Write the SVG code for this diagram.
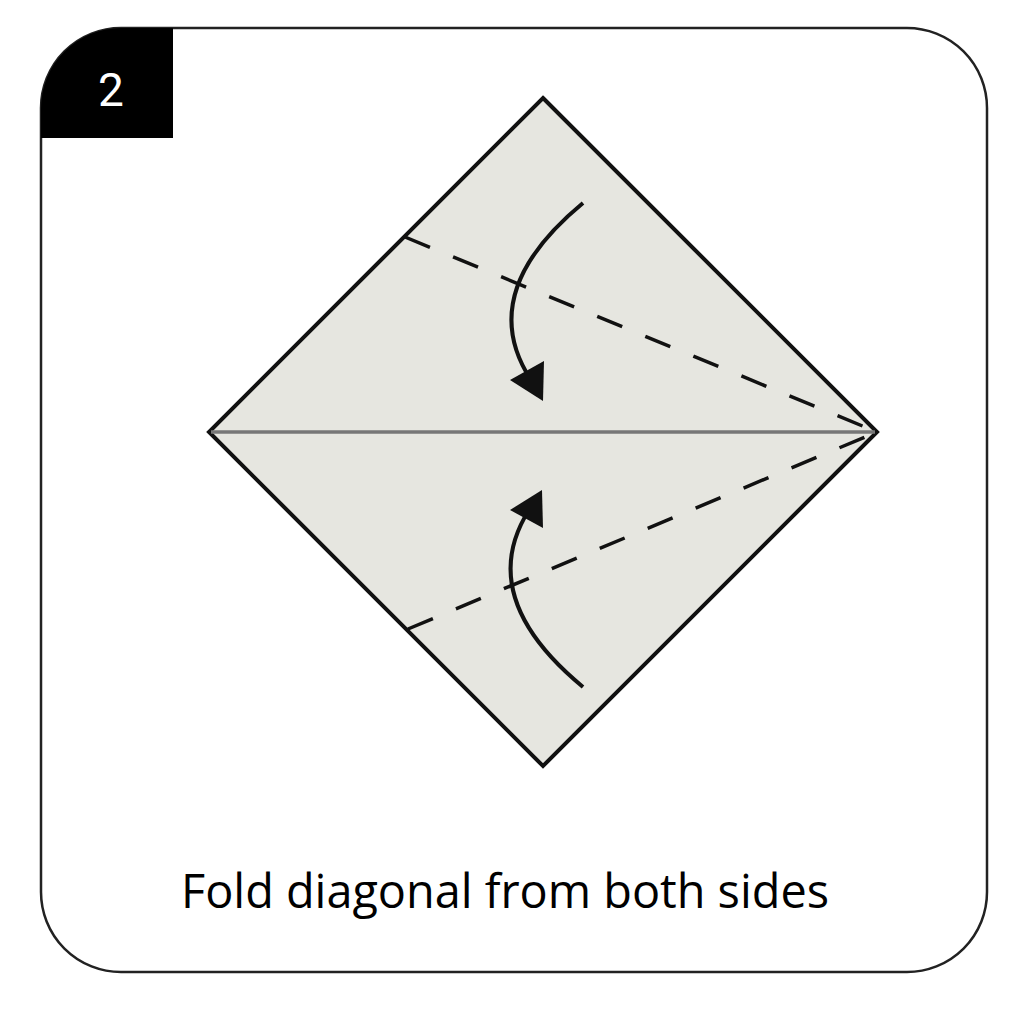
<svg xmlns="http://www.w3.org/2000/svg" width="1024" height="1024" viewBox="0 0 1024 1024">
<style>
.dash{stroke:#111;stroke-width:3.5;stroke-dasharray:27 25;fill:none}
.arc{stroke:#111;stroke-width:4;fill:none}
.head{fill:#111}
.lbl{font-family:"Open Sans","Noto Sans",sans-serif;fill:#000}
</style>
<rect width="1024" height="1024" fill="#fff"/>
<g id="frame">
<rect x="41" y="28" width="946" height="944" rx="80" ry="80" fill="#fff" stroke="#222" stroke-width="2.5"/>
</g>
<g id="tab">
<path d="M41,138 L41,108 A80,80 0 0 1 121,28 L173,28 L173,138 Z" fill="#000"/>
<text x="111" y="106" text-anchor="middle" font-family="Roboto,'Liberation Sans',sans-serif" font-size="46" fill="#fff">2</text>
</g>
<g id="paper">
<polygon points="543,98 877,432 543,766 209,432" fill="#e6e6e0" stroke="#111" stroke-width="4" stroke-linejoin="miter"/>
<line x1="211" y1="432" x2="875" y2="432" stroke="#777" stroke-width="3.5"/>
</g>
<g id="connectors">
<line class="dash" x1="405" y1="237" x2="877" y2="432"/>
<line class="dash" x1="408" y1="629" x2="877" y2="432"/>
<path class="arc" d="M583,203 Q474,293 531,380"/>
<path class="head" d="M510,380 L544,361 L543,401 Z"/>
<path class="arc" d="M583,687 Q474,597 529,510"/>
<path class="head" d="M510,510 L543,528 L542,490 Z"/>
</g>
<g id="caption">
<text class="lbl" x="505" y="908" text-anchor="middle" font-size="48" font-weight="500" textLength="648" lengthAdjust="spacingAndGlyphs">Fold diagonal from both sides</text>
</g>
</svg>
